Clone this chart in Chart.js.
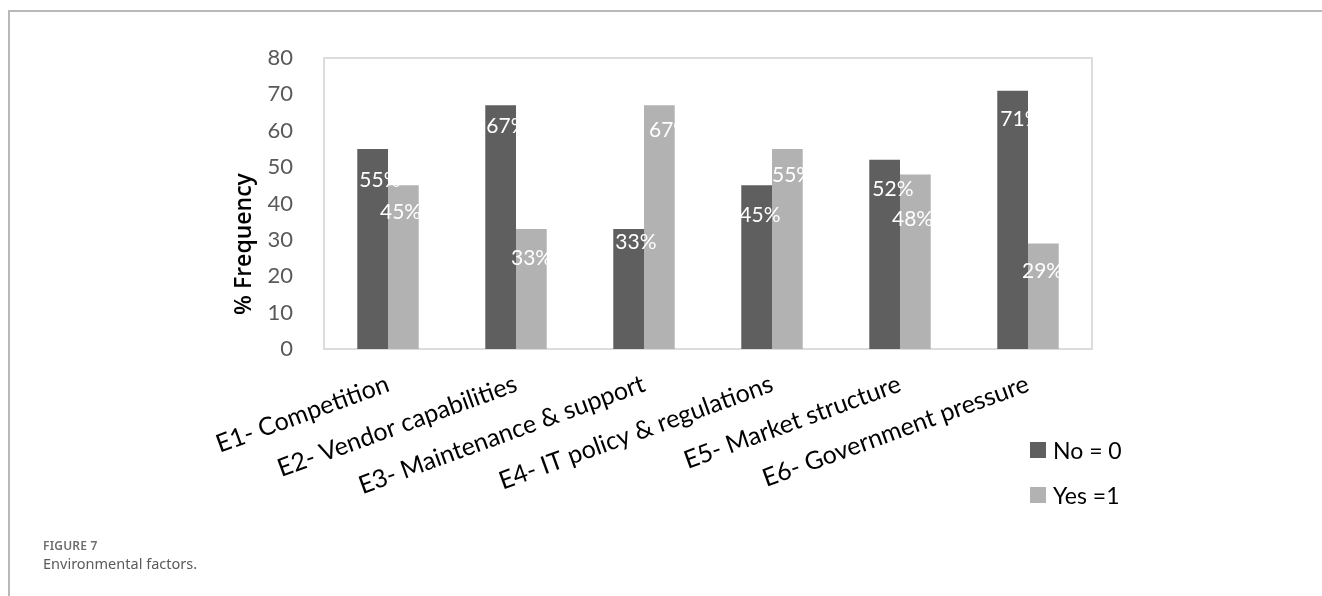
<!DOCTYPE html>
<html>
<head>
<meta charset="utf-8">
<script src="https://cdn.jsdelivr.net/npm/chart.js@4.4.1/dist/chart.umd.min.js"></script>
<style>
  html, body { margin: 0; padding: 0; background: #fff; }
  body { width: 1322px; height: 596px; position: relative; overflow: hidden; }
  .frame {
    position: absolute; left: 8px; top: 10px; right: 0; bottom: 0;
    border-top: 2px solid #b9b9b9; border-left: 2px solid #b9b9b9;
  }
  #chart { position: absolute; left: 0; top: 0; }
  .legend { position: absolute; left: 1030px; top: 427px; font: 23px Lato, sans-serif; color: #000; }
  .legend-row { display: flex; align-items: center; height: 45px; }
  .swatch { width: 16px; height: 16px; margin-right: 7px; }
  .fig-num { position: absolute; left: 43px; top: 537px; font: 600 12px "Noto Sans", sans-serif; color: #6d6d6d; letter-spacing: 0.2px; }
  .fig-title { position: absolute; left: 43px; top: 553px; font: 14.5px "Noto Sans", sans-serif; color: #5a5a5a; }
</style>
</head>
<body>
<div class="frame"></div>
<canvas id="chart" width="1322" height="596"></canvas>
<div class="legend" id="legend"></div>
<div class="fig-num">FIGURE 7</div>
<div class="fig-title">Environmental factors.</div>

<script>
/* ===== Environmental factors: % frequency of No / Yes ===== */

const categories = [
  'E1- Competition',
  'E2- Vendor capabilities',
  'E3- Maintenance & support',
  'E4- IT policy & regulations',
  'E5- Market structure',
  'E6- Government pressure'
];
const noValues  = [55, 67, 33, 45, 52, 71];
const yesValues = [45, 33, 67, 55, 48, 29];
const yTicks    = [0, 10, 20, 30, 40, 50, 60, 70, 80];
const yTitle    = '% Frequency';

// value label placement: shift from the bar's left edge, drop below its top
const labelDxNo    = [2, 1, 2, -2, 3, 3];
const labelDxYes   = [-8, -5, 5, 0, -8, -6];
const labelDropNo  = [31, 21, 13, 30, 29, 28];
const labelDropYes = [27, 29, 25, 26, 45, 28];

const COLORS = { no: '#5f5f5f', yes: '#b2b2b2' };

// light grey box around the plot area
const plotBorder = {
  id: 'plotBorder',
  beforeDatasetsDraw(chart) {
    const { ctx, chartArea: a } = chart;
    ctx.save();
    ctx.strokeStyle = '#dcdcdc';
    ctx.lineWidth = 2;
    ctx.strokeRect(a.left, a.top, a.right - a.left, a.bottom - a.top);
    ctx.restore();
  }
};

// white "nn%" labels inside the bars
const valueLabels = {
  id: 'valueLabels',
  afterDatasetsDraw(chart) {
    const ctx = chart.ctx;
    ctx.save();
    ctx.font = '21px Lato, sans-serif';
    ctx.fillStyle = '#ffffff';
    ctx.textAlign = 'left';
    ctx.textBaseline = 'middle';
    chart.data.datasets.forEach((ds, di) => {
      const meta = chart.getDatasetMeta(di);
      meta.data.forEach((bar, i) => {
        const x = bar.x - bar.width / 2 + ds.labelDx[i];
        const y = bar.y + ds.labelDrop[i];
        ctx.fillText(ds.data[i] + '%', x, y);
      });
    });
    ctx.restore();
  }
};

// rotated y axis title
const axisTitle = {
  id: 'axisTitle',
  afterDraw(chart) {
    const ctx = chart.ctx;
    ctx.save();
    ctx.translate(244, 244);
    ctx.rotate(-Math.PI / 2);
    ctx.font = '600 23px "Open Sans", sans-serif';
    ctx.fillStyle = '#000';
    ctx.textAlign = 'center';
    ctx.textBaseline = 'middle';
    ctx.fillText(yTitle, 0, 0);
    ctx.restore();
  }
};

const chart = new Chart(document.getElementById('chart'), {
  type: 'bar',
  data: {
    labels: categories,
    datasets: [
      {
        label: 'No = 0',
        data: noValues,
        backgroundColor: COLORS.no,
        labelDx: labelDxNo,
        labelDrop: labelDropNo
      },
      {
        label: 'Yes =1',
        data: yesValues,
        backgroundColor: COLORS.yes,
        labelDx: labelDxYes,
        labelDrop: labelDropYes
      }
    ]
  },
  options: {
    responsive: false,
    animation: false,
    layout: { padding: { top: 58, right: 230, left: 0, bottom: 0 } },
    datasets: { bar: { categoryPercentage: 0.48, barPercentage: 1.0 } },
    plugins: {
      legend: { display: false },
      tooltip: { enabled: false }
    },
    scales: {
      x: {
        grid: { display: false },
        border: { display: false },
        ticks: {
          color: '#000',
          font: { family: 'Lato', size: 25 },
          minRotation: 20,
          maxRotation: 20,
          autoSkip: false,
          padding: 12
        },
        afterFit(scale) { scale.height = 247; }
      },
      y: {
        min: yTicks[0],
        max: yTicks[yTicks.length - 1],
        grid: { display: false },
        border: { display: false },
        ticks: {
          stepSize: yTicks[1] - yTicks[0],
          color: '#595959',
          font: { family: 'Lato', size: 22 },
          padding: 23
        },
        afterFit(scale) { scale.width = 324; }
      }
    }
  },
  plugins: [plotBorder, valueLabels, axisTitle]
});

// legend built from the datasets
document.getElementById('legend').innerHTML = chart.data.datasets.map(ds =>
  `<div class="legend-row"><span class="swatch" style="background:${ds.backgroundColor}"></span>${ds.label}</div>`
).join('');
</script>
</body>
</html>
